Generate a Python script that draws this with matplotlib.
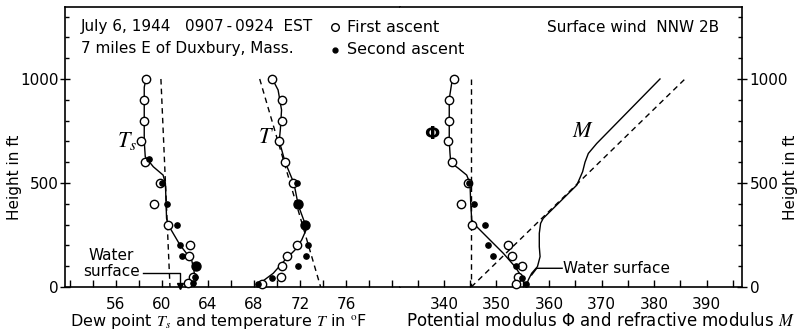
import numpy as np
import matplotlib
matplotlib.use('Agg')
import matplotlib.pyplot as plt
from matplotlib.ticker import MultipleLocator

plt.rcParams['font.family'] = ['DejaVu Sans']
plt.rcParams['mathtext.fontset'] = 'stix'

# ---- dew point Ts (deg F) vs height (ft) ----
ts_first_h = [1000, 900, 800, 700, 600, 500, 400, 300, 200, 150, 50, 20]
ts_first = [58.61, 58.46, 58.46, 58.15, 58.55, 59.83, 59.33, 60.50, 62.43, 62.37, 62.67, 62.29]
ts_second_h = [615, 500, 400, 300, 200, 150, 50, 20]
ts_second = [58.85, 59.97, 60.41, 61.28, 61.57, 61.71, 62.87, 62.67]
ts_both_h = [100]          # both ascents at the same reading
ts_both = [62.96]
ts_curve_h = [1000, 960, 800, 700, 626, 578, 538, 498, 418, 330, 298, 202, 130, 82, 34, 0]
ts_curve = [58.61, 58.46, 58.46, 58.46, 58.55, 59.25, 60.1, 60.3, 60.35, 60.4, 60.55, 61.57, 62.58, 62.78, 62.87, 62.8]
ts_dash_h = [1000, 0]
ts_dash = [59.91, 60.70]

# ---- temperature T (deg F) ----
t_first_h = [1000, 900, 800, 700, 600, 500, 200, 150, 100, 50, 15]
t_first = [69.59, 70.41, 70.41, 70.15, 70.70, 71.42, 71.71, 70.84, 70.41, 70.35, 68.67]
t_second_h = [500, 200, 150, 100, 45, 15]
t_second = [71.71, 72.72, 72.52, 71.80, 69.54, 68.37]
t_both_h = [400, 300]
t_both = [71.85, 72.48]
t_curve_h = [1000, 947, 851, 760, 702, 602, 498, 394, 306, 270, 226, 178, 130, 66, 18]
t_curve = [69.6, 70.1, 70.4, 70.3, 70.2, 70.7, 71.48, 71.85, 72.43, 72.5, 72.15, 71.57, 70.7, 69.68, 68.52]
t_dash_h = [1000, 0]
t_dash = [68.5, 73.8]

# ---- potential modulus Phi ----
phi_first_h = [1000, 900, 800, 700, 600, 500, 400, 300, 200, 150, 100, 50, 15]
phi_first = [341.9, 341.0, 341.0, 340.8, 341.5, 344.5, 343.2, 345.3, 352.2, 352.9, 354.8, 354.0, 353.8]
phi_second_h = [500, 400, 300, 200, 150, 100, 45, 15]
phi_second = [344.8, 345.7, 347.8, 348.4, 349.4, 353.7, 354.8, 355.6]
phi_curve_h = [1000, 980, 904, 702, 643, 598, 571, 538, 498, 402, 322, 290, 226, 162, 98, 50, 0]
phi_curve = [341.8, 341.47, 341.0, 341.0, 341.14, 341.28, 342.72, 344.32, 344.95, 345.09, 345.28,
             346.23, 348.76, 351.3, 353.52, 354.8, 355.6]
phi_dash_h = [1000, 0]
phi_dash = [345.2, 345.2]

# ---- refractive modulus M ----
m_curve_h = [1000, 690, 642, 600, 554, 490, 330, 306, 258, 194, 146, 98, 66, 34, 0]
m_curve = [381.14, 369.09, 367.49, 366.86, 366.4, 365.3, 358.9, 358.4, 358.15, 358.15, 358.3,
           357.8, 356.7, 356.06, 355.6]
m_dash_h = [0, 1000]
m_dash = [345.2, 385.9]

# water surface pointers
ws_left_x = [58.37, 61.57, 61.57]
ws_left_h = [66, 66, 4]
ws_right_x = [356.7, 357.66, 362.5]
ws_right_h = [58, 90, 90]

W, H = 807, 334
fig = plt.figure(figsize=(W / 100, H / 100), dpi=100)
axL = fig.add_axes([65 / W, 47 / H, 335 / W, 280 / H])
axR = fig.add_axes([400 / W, 47 / H, 342 / W, 280 / H])

dash = (0, (4, 3))
lw = 1.0
open_kw = dict(ls='none', marker='o', ms=6, mfc='white', mec='black', mew=1.0, zorder=4, clip_on=False)
fill_kw = dict(ls='none', marker='o', ms=3.8, color='black', zorder=5, clip_on=False)
both_kw = dict(ls='none', marker='o', ms=6.5, color='black', zorder=5, clip_on=False)

# left panel
axL.plot(ts_dash, ts_dash_h, color='black', lw=lw, ls=dash)
axL.plot(t_dash, t_dash_h, color='black', lw=lw, ls=dash)
axL.plot(ts_curve, ts_curve_h, color='black', lw=lw)
axL.plot(t_curve, t_curve_h, color='black', lw=lw)
axL.plot(ts_first, ts_first_h, **open_kw)
axL.plot(t_first, t_first_h, **open_kw)
axL.plot(ts_second, ts_second_h, **fill_kw)
axL.plot(t_second, t_second_h, **fill_kw)
axL.plot(ts_both, ts_both_h, **both_kw)
axL.plot(t_both, t_both_h, **both_kw)
axL.plot(ws_left_x, ws_left_h, color='black', lw=lw)
axL.plot(ws_left_x[-1], ws_left_h[-1], marker='v', ms=4, color='black', clip_on=False)
axL.text(55.6, 113, 'Water\nsurface', ha='center', va='center', fontsize=11, linespacing=1.05)
axL.text(56.96, 702, '$T_s$', ha='center', va='center', fontsize=16)
axL.text(69.04, 719, '$T$', ha='center', va='center', fontsize=16)

axL.set_xlim(51.57, 80.70)
axL.set_ylim(0, 1346)
axL.set_xticks([56, 60, 64, 68, 72, 76])
axL.xaxis.set_minor_locator(MultipleLocator(2))
axL.set_yticks([0, 500, 1000])
axL.yaxis.set_minor_locator(MultipleLocator(100))
axL.spines['right'].set_visible(False)
axL.tick_params(axis='x', which='both', direction='in', length=5, width=1.0, labelsize=11, pad=7)
axL.tick_params(axis='y', which='major', direction='inout', length=7, width=1.0, labelsize=11, pad=1)
axL.tick_params(axis='y', which='minor', direction='in', length=3, width=1.0)
axL.set_xlabel('Dew point $T_s$ and temperature $T$ in $^{\\rm o}$F', fontsize=11.5)
axL.xaxis.set_label_coords((218 - 65) / 335, -0.09)
axL.set_ylabel('Height in ft', fontsize=11)
axL.yaxis.set_label_coords(-43 / 335, 0.39)

# right panel
axR.plot(phi_dash, phi_dash_h, color='black', lw=lw, ls=dash)
axR.plot(m_dash, m_dash_h, color='black', lw=lw, ls=dash)
axR.plot(phi_curve, phi_curve_h, color='black', lw=lw)
axR.plot(m_curve, m_curve_h, color='black', lw=lw)
axR.plot(phi_first, phi_first_h, **open_kw)
axR.plot(phi_second, phi_second_h, **fill_kw)
axR.plot(ws_right_x, ws_right_h, color='black', lw=lw)
axR.text(362.7, 87, 'Water surface', ha='left', va='center', fontsize=11)
axR.text(337.66, 736, 'Φ', ha='center', va='center', fontsize=13, fontweight='bold')
axR.text(366.5, 750, '$M$', ha='center', va='center', fontsize=16)

axR.set_xlim(331.62, 396.76)
axR.set_ylim(0, 1346)
axR.set_xticks([340, 350, 360, 370, 380, 390])
axR.xaxis.set_minor_locator(MultipleLocator(5))
axR.set_yticks([0, 500, 1000])
axR.yaxis.set_minor_locator(MultipleLocator(100))
axR.spines['left'].set_visible(False)
axR.yaxis.tick_right()
axR.yaxis.set_label_position('right')
axR.tick_params(axis='x', which='both', direction='in', length=5, width=1.0, labelsize=11, pad=7)
axR.tick_params(axis='y', which='major', direction='inout', length=7, width=1.0, labelsize=11, pad=2)
axR.tick_params(axis='y', which='minor', direction='in', length=3, width=1.0)
axR.set_xlabel('Potential modulus Φ and refractive modulus $M$', fontsize=12)
axR.xaxis.set_label_coords((600 - 400) / 342, -0.09)
axR.set_ylabel('Height in ft', fontsize=11)
axR.yaxis.set_label_coords((783 - 400) / 342, 0.39)

for ax in (axL, axR):
    for s in ax.spines.values():
        s.set_linewidth(1.2)

# header texts
fig.text(81 / W, 1 - 27 / H, 'July 6, 1944   0907\u2009-\u20090924  EST', ha='left', va='center', fontsize=11)
fig.text(81 / W, 1 - 49 / H, '7 miles E of Duxbury, Mass.', ha='left', va='center', fontsize=11)
fig.text(547 / W, 1 - 27 / H, 'Surface wind  NNW 2B', ha='left', va='center', fontsize=11)
fig.lines.append(plt.Line2D([335 / W], [1 - 27 / H], transform=fig.transFigure, marker='o', ms=5.5,
                            mfc='white', mec='black', mew=1.0, ls='none'))
fig.lines.append(plt.Line2D([335 / W], [1 - 50 / H], transform=fig.transFigure, marker='o', ms=3.5,
                            color='black', ls='none'))
fig.text(347 / W, 1 - 27 / H, 'First ascent', ha='left', va='center', fontsize=11.5)
fig.text(347 / W, 1 - 50 / H, 'Second ascent', ha='left', va='center', fontsize=11.5)

fig.savefig('out.png', dpi=100)
